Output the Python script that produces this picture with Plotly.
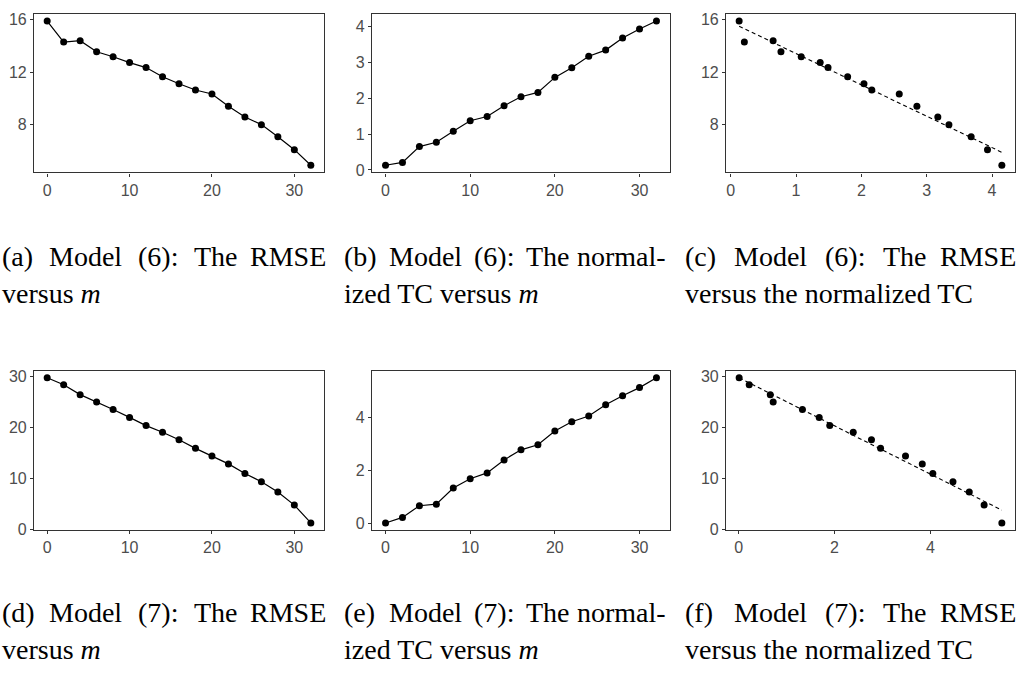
import numpy as np
import plotly.graph_objects as go

# ---------------- data ----------------
m = [0, 2, 4, 6, 8, 10, 12, 14, 16, 18, 20, 22, 24, 26, 28, 30, 32]
rmse6 = [15.9, 14.3, 14.4, 13.56, 13.18, 12.73, 12.35, 11.65, 11.12, 10.64,
         10.34, 9.41, 8.58, 8.0, 7.07, 6.09, 4.9]
tc6 = [0.13, 0.21, 0.65, 0.77, 1.08, 1.37, 1.49, 1.79, 2.04, 2.16,
       2.58, 2.85, 3.17, 3.34, 3.68, 3.93, 4.15]
rmse7 = [29.74, 28.39, 26.45, 25.03, 23.55, 22.0, 20.39, 19.10, 17.61, 15.94,
         14.45, 12.90, 11.03, 9.42, 7.42, 4.84, 1.35]
tc7 = [0.01, 0.22, 0.66, 0.72, 1.33, 1.68, 1.90, 2.39, 2.77, 2.96,
       3.48, 3.83, 4.05, 4.47, 4.81, 5.12, 5.49]

ticks_m = [0, 10, 20, 30]
ticks_rmse6 = [8, 12, 16]
ticks_tc6 = [0, 1, 2, 3, 4]
ticks_rmse7 = [0, 10, 20, 30]
ticks_tc7 = [0, 2, 4]

captions = [
    (["(a)", "Model", "(6):", "The", "RMSE"], "versus <i>m</i>"),
    (["(b)", "Model", "(6):", "The", "normal-"], "ized TC versus <i>m</i>"),
    (["(c)", "Model", "(6):", "The", "RMSE"], "versus the normalized TC"),
    (["(d)", "Model", "(7):", "The", "RMSE"], "versus <i>m</i>"),
    (["(e)", "Model", "(7):", "The", "normal-"], "ized TC versus <i>m</i>"),
    (["(f)", "Model", "(7):", "The", "RMSE"], "versus the normalized TC"),
]

# ---------------- layout geometry ----------------
W, H = 1021, 687
cols = [(34, 324), (372, 670), (726, 1015)]
rows = [(12, 173), (374, 536)]


def xd(l, r):
    return [l / W, r / W]


def yd(t, b):
    return [1 - b / H, 1 - t / H]


def rng(v):
    lo, hi = min(v), max(v)
    pad = 0.05 * (hi - lo)
    return [lo - pad, hi + pad]


fig = go.Figure()

panels = [
    (m, rmse6, ticks_m, ticks_rmse6, False),
    (m, tc6, ticks_m, ticks_tc6, False),
    (tc6, rmse6, ticks_tc6, ticks_rmse6, True),
    (m, rmse7, ticks_m, ticks_rmse7, False),
    (m, tc7, ticks_m, ticks_tc7, False),
    (tc7, rmse7, ticks_tc7, ticks_rmse7, True),
]

axis_common = dict(
    showline=True, mirror=True, linecolor="#333333", linewidth=1.1,
    ticks="outside", ticklen=3, tickwidth=1, tickcolor="#333333",
    showgrid=False, zeroline=False,
    tickfont=dict(family="Liberation Sans, Arial", size=16, color="#4D4D4D"),
)

for i, (xv, yv, xt, yt, smooth) in enumerate(panels):
    r, c = divmod(i, 3)
    n = "" if i == 0 else str(i + 1)
    xa, ya = "x" + n, "y" + n
    if smooth:
        slope, inter = np.polyfit(xv, yv, 1)
        xs = np.array([min(xv), max(xv)])
        fig.add_trace(go.Scatter(x=xs, y=inter + slope * xs, mode="lines",
                                 line=dict(color="black", width=1.1, dash="4px,3px"),
                                 xaxis=xa, yaxis=ya, showlegend=False,
                                 hoverinfo="skip"))
        fig.add_trace(go.Scatter(x=xv, y=yv, mode="markers",
                                 marker=dict(color="black", size=7),
                                 xaxis=xa, yaxis=ya, showlegend=False))
    else:
        fig.add_trace(go.Scatter(x=xv, y=yv, mode="lines+markers",
                                 line=dict(color="black", width=1.2),
                                 marker=dict(color="black", size=7),
                                 xaxis=xa, yaxis=ya, showlegend=False))
    fig.layout["xaxis" + n] = dict(domain=xd(*cols[c]), anchor=ya,
                                   range=rng(xv), tickvals=xt, **axis_common)
    fig.layout["yaxis" + n] = dict(domain=yd(*rows[r]), anchor=xa,
                                   range=rng(yv), tickvals=yt, **axis_common)

# ---------------- captions ----------------
col_text = [(0, 328), (342, 668), (683, 1018)]
word_rel = [[0, 47, 136, 192], [0, 45, 130, 182], [0, 49, 140, 198]]
line_y = [(258, 296), (620, 657)]
cap_font = dict(family="Liberation Serif, Times New Roman, serif", size=28, color="black")

for i, (words, line2) in enumerate(captions):
    r, c = divmod(i, 3)
    x0, x1 = col_text[c]
    y1, y2 = line_y[r]
    for w, dx in zip(words[:-1], word_rel[c]):
        fig.add_annotation(x=(x0 + dx) / W, y=1 - y1 / H, xref="paper", yref="paper",
                           text=w, showarrow=False, xanchor="left", yanchor="middle",
                           font=cap_font)
    fig.add_annotation(x=x1 / W, y=1 - y1 / H, xref="paper", yref="paper",
                       text=words[-1], showarrow=False, xanchor="right", yanchor="middle",
                       font=cap_font)
    fig.add_annotation(x=x0 / W, y=1 - y2 / H, xref="paper", yref="paper",
                       text=line2, showarrow=False, xanchor="left", yanchor="middle",
                       font=cap_font)

fig.update_layout(width=W, height=H, margin=dict(l=0, r=0, t=0, b=0),
                  paper_bgcolor="white", plot_bgcolor="white")

fig.write_html("out.html")
